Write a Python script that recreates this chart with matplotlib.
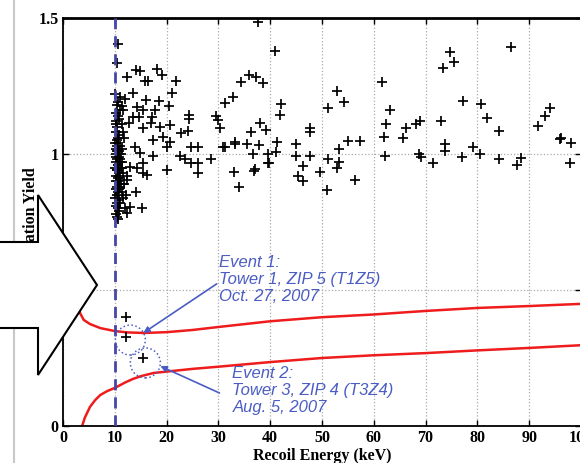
import matplotlib
matplotlib.use("Agg")
import matplotlib.pyplot as plt
from matplotlib.patches import Polygon, Ellipse
import numpy as np

# recoil energy (keV), ionization yield for each event
events = [
    # spread of events above 12 keV
    (44.9, 1.037), (44.9, 0.993), (47.6, 1.096), (47.6, 1.081), (47.6, 0.993),
    (46.4, 0.956), (45.3, 0.919), (46.4, 0.901), (51.1, 1.169), (52.8, 1.232),
    (54.2, 1.191), (49.7, 0.934), (51.1, 0.982), (50.9, 0.868), (53.2, 1.018),
    (53.2, 0.971), (52.8, 0.949), (55.1, 1.048), (57.4, 1.048), (56.3, 0.904),
    (61.5, 1.265), (63.1, 1.162), (62.3, 1.110), (61.9, 1.063), (62.1, 0.993),
    (65.6, 1.059), (66.2, 1.096), (68.1, 1.110), (68.9, 1.121), (68.7, 1.000),
    (69.1, 0.989), (71.4, 0.967), (73.3, 1.316), (74.7, 1.375), (75.4, 1.338),
    (72.9, 1.121), (77.2, 1.195), (73.7, 1.037), (73.7, 1.011), (77.0, 0.989),
    (79.1, 1.026), (80.5, 1.000), (80.7, 1.184), (81.8, 1.132), (84.1, 1.085),
    (84.1, 0.982), (86.5, 1.393), (87.6, 0.960), (88.4, 0.985), (91.7, 1.103),
    (93.0, 1.140), (94.0, 1.169), (95.9, 1.055), (96.1, 1.059), (98.1, 1.040),
    (97.9, 0.967),
    (37.7, 1.485), (41.0, 1.379), (10.6, 1.404), (10.4, 1.335), (12.4, 1.283),
    (14.1, 1.309), (14.9, 1.305), (18.2, 1.313), (19.1, 1.290), (15.9, 1.268),
    (16.4, 1.268), (21.9, 1.268), (21.1, 1.224), (13.5, 1.224), (11.0, 1.210),
    (12.0, 1.202), (11.4, 1.176), (11.6, 1.162), (14.3, 1.173), (16.1, 1.199),
    (15.5, 1.162), (18.6, 1.195), (17.8, 1.162), (20.5, 1.176), (13.5, 1.136),
    (14.7, 1.136), (17.2, 1.136), (12.8, 1.114), (15.5, 1.096), (17.0, 1.114),
    (18.8, 1.099), (20.7, 1.107), (22.8, 1.077), (24.2, 1.085), (24.4, 1.143),
    (24.4, 1.129), (29.6, 1.140), (30.0, 1.125), (30.4, 1.096), (31.3, 1.188),
    (32.9, 1.210), (34.4, 1.265), (36.0, 1.290), (37.3, 1.283), (38.7, 1.261),
    (42.0, 1.184), (41.8, 1.143), (38.1, 1.114), (36.2, 1.081), (39.1, 1.088),
    (33.3, 1.044), (35.6, 1.037), (37.9, 1.033), (41.4, 1.044), (41.2, 1.007),
    (39.5, 1.000), (39.5, 0.967), (39.8, 0.967), (36.6, 1.000), (37.1, 0.945),
    (36.8, 0.938), (33.1, 0.934), (34.0, 0.879), (30.8, 1.026), (31.3, 1.026),
    (33.3, 1.037), (28.6, 0.982), (26.1, 1.026), (24.8, 1.026), (26.1, 0.967),
    (26.1, 0.930), (24.8, 0.967), (23.6, 0.982), (22.6, 0.993), (20.1, 1.026),
    (20.7, 1.044), (19.3, 1.063), (17.4, 1.051), (17.4, 0.993), (14.9, 1.004),
    (15.5, 0.967), (13.9, 1.026), (14.3, 0.949), (20.1, 0.941), (16.2, 0.923),
    (15.5, 0.930), (13.0, 0.952), (12.4, 0.904), (14.1, 0.860), (13.0, 0.805),
    (15.3, 0.801), (12.4, 0.783),
    # pile-up just above the 10 keV threshold
    (10.1, 1.22), (10.4, 1.18), (10.2, 1.15), (10.7, 1.19), (10.3, 1.12),
    (11.0, 1.16), (10.5, 1.10), (10.2, 1.08), (10.9, 1.13), (10.6, 1.06),
    (11.3, 1.11), (10.1, 1.04), (10.4, 1.05), (10.8, 1.07), (10.3, 1.02),
    (11.1, 1.03), (10.6, 1.01), (10.2, 0.99), (10.9, 1.00), (10.5, 0.98),
    (11.4, 1.02), (10.3, 0.97), (10.7, 0.96), (10.1, 0.95), (11.0, 0.97),
    (10.4, 0.94), (10.8, 0.93), (10.2, 0.92), (11.2, 0.95), (10.6, 0.91),
    (10.3, 0.90), (10.9, 0.89), (10.5, 0.88), (11.5, 0.93), (10.2, 0.87),
    (10.7, 0.86), (10.4, 0.85), (11.1, 0.88), (10.1, 0.84), (10.8, 0.83),
    (10.5, 0.82), (11.3, 0.86), (10.3, 0.81), (10.6, 0.80), (10.9, 0.79),
    (10.2, 0.78), (11.0, 0.82), (10.4, 0.77), (10.7, 0.76), (11.6, 0.84),
    (10.3, 1.00), (10.5, 1.03), (10.8, 0.99), (11.2, 1.00), (10.6, 0.96),
    (10.4, 1.01), (11.0, 0.98), (10.7, 1.04), (10.5, 0.94), (11.4, 0.97),
    (10.9, 0.92), (10.6, 0.90), (11.1, 0.91), (10.8, 0.87), (11.3, 0.95),
    (11.8, 0.89), (12.1, 0.85), (11.7, 1.06), (12.4, 0.92), (11.9, 0.80),
    (10.2, 1.11), (10.6, 1.14), (11.5, 1.08), (10.8, 1.01), (11.2, 0.89),
    # near the signal band
    (12.2, 0.40), (12.2, 0.327), (15.5, 0.25),
]

# signal acceptance band edges
upper_e = [2.5, 3.3, 4.0, 5.2, 7.2, 10, 12.5, 15.7, 20, 25, 30, 40, 50, 60, 70, 80, 90, 100]
upper_y = [0.48, 0.415, 0.39, 0.375, 0.36, 0.349, 0.344, 0.342, 0.345, 0.353, 0.364, 0.385,
           0.40, 0.41, 0.423, 0.434, 0.441, 0.449]
lower_e = [3.7, 4.2, 5.2, 6.2, 7.2, 8.5, 10, 12, 13.5, 15, 17.5, 20, 25, 30, 40, 50, 60, 70, 80, 90, 100]
lower_y = [0.0, 0.03, 0.07, 0.095, 0.114, 0.128, 0.14, 0.16, 0.173, 0.183, 0.195, 0.2, 0.21,
           0.218, 0.235, 0.25, 0.26, 0.268, 0.278, 0.287, 0.297]

threshold = 10
candidates = [(13.0, 0.316), (15.9, 0.232)]
event_labels = ["Event 1:\nTower 1, ZIP 5 (T1Z5)\nOct. 27, 2007",
                "Event 2:\nTower 3, ZIP 4 (T3Z4)\nAug. 5, 2007"]

serif = {'family': 'Liberation Serif', 'weight': 'bold', 'size': 11.5}
note_font = ['Liberation Sans Narrow', 'Liberation Sans', 'DejaVu Sans']
blue = '#4b5cc4'

fig = plt.figure(figsize=(5.8, 4.63), dpi=100, facecolor='white')
ax = fig.add_axes([63 / 580, 37 / 463, 518 / 580, 408 / 463])

pts = np.array(events)
ax.plot(pts[:, 0], pts[:, 1], '+', color='black', ms=6.5, mew=1.25, zorder=3)
ax.plot(upper_e, upper_y, color='#ee1c1c', lw=1.8, zorder=2)
ax.plot(lower_e, lower_y, color='#ee1c1c', lw=1.8, zorder=2)
ax.axvline(threshold, color='#4646a8', lw=2, ls=(0, (4, 2.5)), zorder=4)

for (cx, cy) in candidates:
    ax.add_patch(Ellipse((cx, cy), 5.8, 0.11, fill=False, ec=blue, lw=1.1, ls=':', zorder=5))

ax.annotate(event_labels[0], xy=(15.5, 0.342), xytext=(30.2, 0.63),
            color=blue, fontsize=12, style='italic', family=note_font,
            va='top', ha='left', linespacing=1.2,
            arrowprops=dict(arrowstyle='-|>', color=blue, lw=1.2, mutation_scale=9,
                            shrinkA=0, shrinkB=0, relpos=(0, 0.45)))
ax.annotate(event_labels[1], xy=(18.8, 0.22), xytext=(32.7, 0.222),
            color=blue, fontsize=12, style='italic', family=note_font,
            va='top', ha='left', linespacing=1.2,
            arrowprops=dict(arrowstyle='-|>', color=blue, lw=1.2, mutation_scale=9,
                            shrinkA=0, shrinkB=0, relpos=(-0.08, 0.45)))

ax.set_xlim(0, 100)
ax.set_ylim(0, 1.5)
ax.set_xticks(range(0, 101, 10))
ax.set_xticklabels([str(v) for v in range(0, 101, 10)], fontdict=serif)
ax.set_yticks([0, 0.5, 1, 1.5])
ax.set_yticklabels(['0', '0.5', '1', '1.5'], fontdict=serif)
ax.tick_params(direction='in', top=True, right=True, length=4, width=1, pad=3)
ax.grid(True, ls=':', color='#aaaaaa', lw=0.9)
for side in ['left', 'bottom', 'right']:
    ax.spines[side].set_linewidth(1.3)
ax.spines['top'].set_linewidth(2)
ax.set_xlabel('Recoil Energy (keV)', fontdict=serif, labelpad=1)
ax.yaxis.set_label_coords(-24 / 518, 0.5)
ax.set_ylabel('Ionization Yield', fontdict=serif)

# page edge and the big pointer on the left
fig.add_artist(plt.Line2D([14 / 580, 14 / 580], [0, 1], color='#c8c8c8', lw=1.5,
                          transform=fig.transFigure))
arrow_px = [(-5, 242), (38, 242), (38, 195), (97, 285), (38, 375), (38, 328), (-5, 328)]
arrow = Polygon([(x / 580, 1 - y / 463) for x, y in arrow_px], closed=True,
                transform=fig.transFigure, fc='white', ec='black', lw=1.5, zorder=10)
fig.add_artist(arrow)

fig.savefig('out.png', dpi=100, facecolor='white')
